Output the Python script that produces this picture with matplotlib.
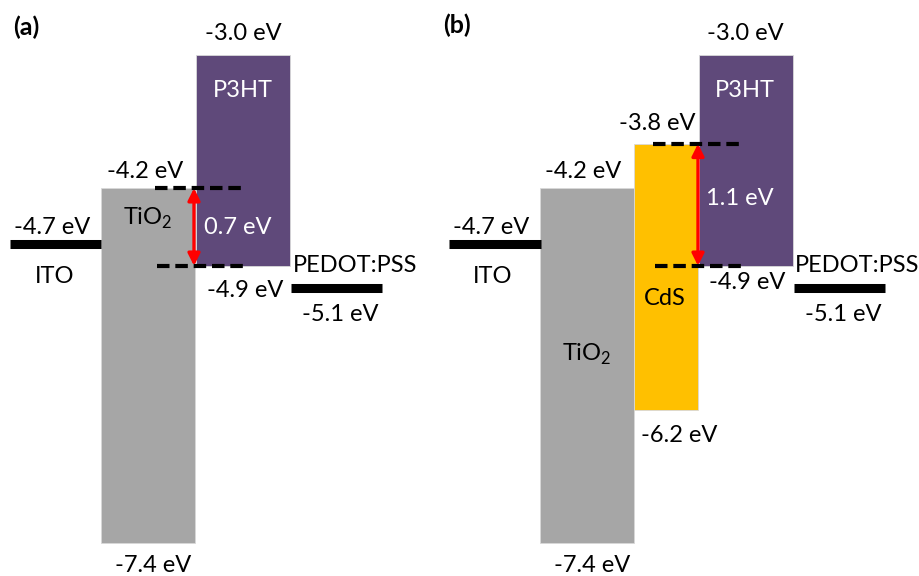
import matplotlib
matplotlib.use('Agg')
from matplotlib import pyplot as plt

plt.rcParams['font.family'] = ['Lato', 'DejaVu Sans']
plt.rcParams['mathtext.fontset'] = 'custom'
plt.rcParams['mathtext.rm'] = 'Lato'

# energy levels (eV)
ito = -4.7
pedot = -5.1
tio2 = (-4.2, -7.4)    # (conduction band, valence band)
cds = (-3.8, -6.2)
p3ht = (-3.0, -4.9)    # (LUMO, HOMO)
gap_a = 0.7
gap_b = 1.1

GRAY = '#a6a6a6'
PURPLE = '#5f497a'
YELLOW = '#ffc000'
FS = 17

fig = plt.figure(figsize=(9.2, 5.76), dpi=100)
ax = fig.add_axes([0, 0, 1, 1])
ax.set_xlim(0, 920)
ax.set_ylim(-7.694, -2.505)
ax.axis('off')


def band(x0, x1, levels, color):
    top, bottom = levels
    ax.bar((x0 + x1) / 2, top - bottom, bottom=bottom, width=x1 - x0,
           color=color, edgecolor='#d9d9d9', linewidth=0.6, zorder=1)


def level(E, x0, x1):
    ax.hlines(E, x0, x1, colors='black', linewidth=6.5, capstyle='butt', zorder=3)


def dashed(E, x0, x1):
    ax.hlines(E, x0, x1, colors='black', linewidth=3,
              linestyles=(0, (3.0, 1.4)), zorder=3)


def arrow(x, e_top, e_bot):
    ax.annotate('', xy=(x, e_bot), xytext=(x, e_top),
                arrowprops=dict(arrowstyle='<|-|>', color='#ff0000', lw=2.4,
                                mutation_scale=18, shrinkA=0, shrinkB=0),
                zorder=4)


def label(x, y, s, color='black', **kw):
    ax.text(x, y, s, color=color, fontsize=FS, ha='center', va='center', **kw)


ev = lambda v: '%.1f eV' % v
TIO2 = r'TiO$_\mathregular{2}$'

# ---- panel (a): ITO / TiO2 / P3HT / PEDOT:PSS
level(ito, 10, 101)
band(101, 195, tio2, GRAY)
band(196, 290, p3ht, PURPLE)
level(pedot, 291, 382)
dashed(tio2[0], 155, 245)
dashed(p3ht[1], 157, 247)
arrow(194, tio2[0], p3ht[1])

label(243, p3ht[0] + 0.19, ev(p3ht[0]))
label(243, p3ht[0] - 0.32, 'P3HT', color='white')
label(145, tio2[0] + 0.15, ev(tio2[0]))
label(148, tio2[0] - 0.27, TIO2)
label(238, (tio2[0] + p3ht[1]) / 2, '%.1f eV' % gap_a, color='white')
label(52, ito + 0.15, ev(ito))
label(55, ito - 0.30, 'ITO')
label(355, pedot + 0.20, 'PEDOT:PSS')
label(340, pedot - 0.24, ev(pedot))
label(245, p3ht[1] - 0.22, ev(p3ht[1]))
label(153, tio2[1] - 0.20, ev(tio2[1]))

# ---- panel (b): ITO / TiO2 / CdS / P3HT / PEDOT:PSS
level(ito, 449, 541)
band(540, 634, tio2, GRAY)
band(634, 698, cds, YELLOW)
band(699, 793, p3ht, PURPLE)
level(pedot, 794, 885)
dashed(cds[0], 653, 743)
dashed(p3ht[1], 655, 745)
arrow(698, cds[0], p3ht[1])

label(745, p3ht[0] + 0.19, ev(p3ht[0]))
label(745, p3ht[0] - 0.32, 'P3HT', color='white')
label(657, cds[0] + 0.18, ev(cds[0]))
label(583, tio2[0] + 0.15, ev(tio2[0]))
label(740, (cds[0] + p3ht[1]) / 2 + 0.06, '%.1f eV' % gap_b, color='white')
label(491, ito + 0.15, ev(ito))
label(493, ito - 0.30, 'ITO')
label(857, pedot + 0.20, 'PEDOT:PSS')
label(843, pedot - 0.24, ev(pedot))
label(747, p3ht[1] - 0.15, ev(p3ht[1]))
label(665, -5.19, 'CdS')
label(587, -5.70, TIO2)
label(679, cds[1] - 0.23, ev(cds[1]))
label(592, tio2[1] - 0.20, ev(tio2[1]))

fig.text(13 / 920, 1 - 27 / 576, '(a)', fontsize=FS + 1, fontweight='bold', va='center')
fig.text(443 / 920, 1 - 25 / 576, '(b)', fontsize=FS + 1, fontweight='bold', va='center')

fig.savefig('out.png', dpi=100)
